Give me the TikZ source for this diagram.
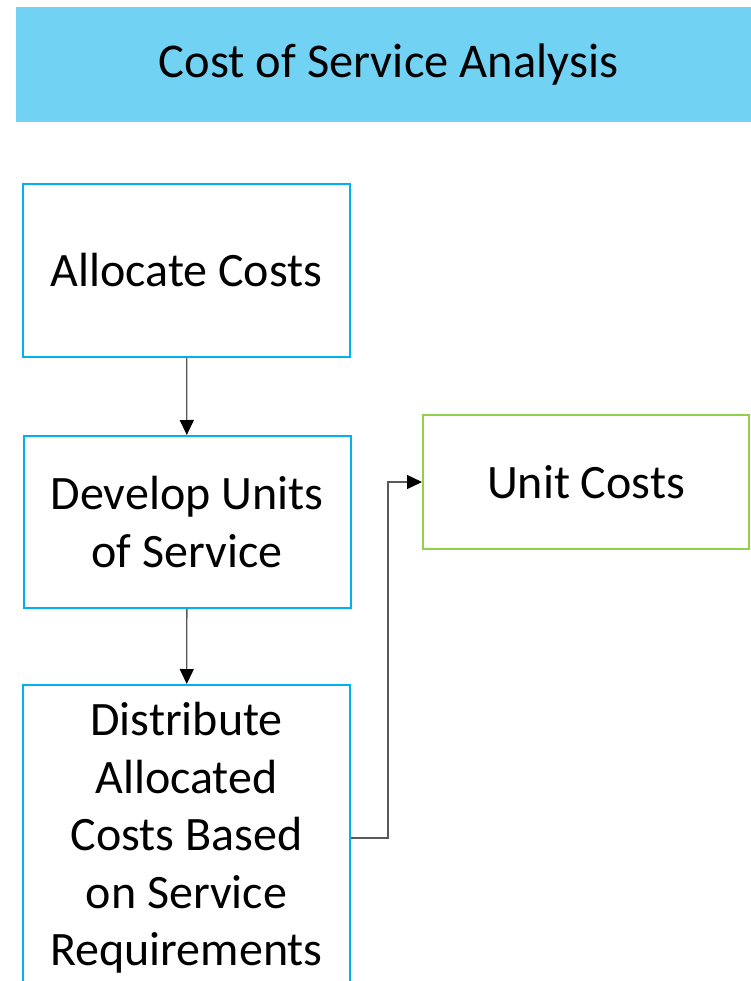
\documentclass[tikz,border=0pt]{standalone}
\usepackage{fontspec}
\setmainfont{Carlito}
\usetikzlibrary{arrows.meta,positioning}
\definecolor{headblue}{HTML}{72D2F4}
\definecolor{boxblue}{HTML}{00B0F0}
\definecolor{boxgreen}{HTML}{92D050}
\definecolor{linegray}{HTML}{595959}

\begin{document}
\begin{tikzpicture}[x=1pt, y=-1pt,
    box/.style={draw=boxblue, line width=2pt, minimum width=327pt, inner sep=0pt,
        align=center, font=\fontsize{48}{57.5}\selectfont},
    link/.style={draw=linegray, line width=1.3pt,
        -{Triangle[length=15pt, width=14pt, color=black]}}]
    \useasboundingbox (0,0) rectangle (750,981);

    \node[fill=headblue, minimum width=745pt, minimum height=115pt, inner sep=0pt,
        font=\fontsize{48.5}{58}\selectfont] (title) at (388.5,64.5) {Cost of Service Analysis};

    \node[box, minimum height=173pt] (alloc) at (186.5,270.5) {Allocate Costs};
    \node[box, minimum height=172pt] (develop) at (187,522) {Develop Units\\of Service};
    \node[box, minimum height=306pt] (distribute) at (186.5,838)
        {Distribute\\Allocated\\Costs Based\\on Service\\Requirements};
    \node[box, draw=boxgreen, minimum width=326pt, minimum height=134pt] (units) at (586,482) {Unit Costs};

    \path[link]
        (alloc) edge (develop)
        (develop) edge (distribute);
    \draw[link] (distribute.east) -- ++(37,0) |- (units.west);
\end{tikzpicture}
\end{document}
